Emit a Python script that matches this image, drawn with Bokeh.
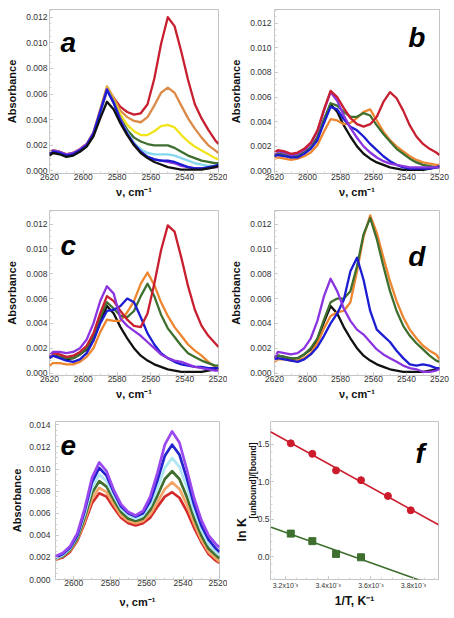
import numpy as np
from bokeh.plotting import figure
from bokeh.models import Range1d, FixedTicker, PrintfTickFormatter, CustomJSTickFormatter, Label, Title
from bokeh.layouts import row, column
from bokeh.embed import file_html
from bokeh.resources import INLINE

FONT = "Liberation Sans"

# ---------------- data ----------------
# wavenumber grid (cm^-1) for panels a-d
nu_ad = [2620, 2618, 2614, 2610, 2606, 2602, 2598, 2594, 2590, 2586, 2582, 2578, 2574, 2570,
         2566, 2562, 2558, 2554, 2550, 2546, 2542, 2538, 2534, 2530, 2526, 2522, 2520]

black_ref = [.0012, .0014, .0013, .0011, .0012, .0015, .0019, .0027, .0041, .0054, .0048, .0037, .0028, .0020,
             .0014, .0010, .0007, .0005, .0003, .0002, .0001, .0001, .0001, .0001, .0002, .0003, .0004]

# panel a
red_a = [.0014, .0016, .0015, .0013, .0014, .0017, .0021, .0029, .0046, .0062, .0057, .0050, .0046, .0044,
         .0045, .0052, .0072, .0099, .0120, .0113, .0093, .0071, .0052, .0041, .0032, .0024, .0021]
orange_a = [.0015, .0016, .0015, .0013, .0014, .0017, .0021, .0030, .0048, .0066, .0057, .0047, .0042, .0039,
            .0038, .0042, .0051, .0061, .0065, .0061, .0051, .0041, .0033, .0026, .0020, .0016, .0014]
yellow_a = [.0014, .0016, .0015, .0013, .0014, .0017, .0021, .0030, .0047, .0065, .0055, .0044, .0036, .0031,
            .0028, .0028, .0031, .0035, .0036, .0034, .0028, .0023, .0019, .0016, .0013, .0010, .0009]
green_a = [.0014, .0015, .0014, .0012, .0013, .0016, .0020, .0029, .0046, .0064, .0054, .0041, .0032, .0026,
           .0023, .0021, .0020, .0020, .0020, .0018, .0015, .0012, .0010, .0008, .0007, .0006, .0006]
cyan_a = [.0013, .0015, .0014, .0012, .0013, .0016, .0020, .0029, .0046, .0063, .0053, .0040, .0030, .0022,
          .0017, .0014, .0013, .0013, .0013, .0012, .0010, .0008, .0006, .0005, .0004, .0004, .0004]
purple_a = [.0014, .0016, .0015, .0013, .0014, .0017, .0021, .0030, .0047, .0064, .0053, .0040, .0029, .0021,
            .0015, .0011, .0009, .0008, .0007, .0006, .0004, .0003, .0002, .0002, .0002, .0003, .0003]
blue_a = [.0013, .0015, .0014, .0012, .0013, .0016, .0020, .0029, .0046, .0063, .0053, .0039, .0029, .0021,
          .0015, .0011, .0009, .0008, .0008, .0007, .0005, .0003, .0002, .0002, .0003, .0004, .0005]

# panel b
red_b = [.0015, .0017, .0016, .0014, .0015, .0018, .0023, .0033, .0050, .0065, .0060, .0051, .0043, .0038,
         .0036, .0038, .0044, .0056, .0064, .0059, .0049, .0037, .0028, .0022, .0018, .0015, .0013]
purple_b = [.0014, .0016, .0015, .0013, .0014, .0017, .0022, .0032, .0049, .0064, .0057, .0045, .0035, .0027,
            .0020, .0015, .0011, .0008, .0006, .0005, .0004, .0003, .0003, .0003, .0003, .0003, .0003]
green_b = [.0013, .0014, .0013, .0012, .0012, .0015, .0019, .0027, .0042, .0055, .0053, .0048, .0044, .0044,
           .0047, .0045, .0037, .0030, .0024, .0018, .0014, .0010, .0007, .0005, .0004, .0003, .0003]
orange_b = [.0010, .0011, .0010, .0009, .0010, .0012, .0015, .0021, .0032, .0042, .0041, .0038, .0039, .0043,
            .0048, .0050, .0041, .0032, .0025, .0020, .0016, .0012, .0009, .0007, .0006, .0005, .0005]
blue_b = [.0012, .0013, .0012, .0011, .0011, .0014, .0018, .0025, .0039, .0052, .0050, .0042, .0036, .0033,
          .0028, .0022, .0017, .0012, .0008, .0005, .0003, .0002, .0002, .0002, .0002, .0003, .0004]

# panel c
red_c = [.0014, .0016, .0015, .0013, .0014, .0017, .0022, .0032, .0048, .0062, .0058, .0050, .0043, .0038,
         .0037, .0048, .0072, .0099, .0119, .0114, .0093, .0070, .0051, .0038, .0030, .0024, .0021]
purple_c = [.0014, .0017, .0017, .0016, .0017, .0020, .0027, .0040, .0058, .0070, .0064, .0044, .0038, .0034,
            .0030, .0025, .0020, .0015, .0012, .0010, .0009, .0007, .0005, .0004, .0003, .0002, .0002]
blue_c = [.0012, .0014, .0012, .0010, .0009, .0011, .0016, .0026, .0040, .0050, .0051, .0054, .0060, .0057,
          .0045, .0032, .0023, .0016, .0012, .0009, .0007, .0006, .0005, .0005, .0004, .0004, .0004]
green_c = [.0013, .0014, .0013, .0012, .0012, .0015, .0020, .0029, .0045, .0057, .0052, .0046, .0045, .0050,
           .0062, .0072, .0062, .0047, .0036, .0029, .0022, .0016, .0013, .0010, .0008, .0006, .0006]
orange_c = [.0006, .0008, .0008, .0007, .0007, .0009, .0013, .0020, .0033, .0043, .0042, .0042, .0049, .0058,
            .0072, .0081, .0071, .0057, .0046, .0037, .0030, .0023, .0018, .0014, .0009, .0005, .0003]

# panel d
purple_d = [.0012, .0017, .0016, .0015, .0016, .0020, .0028, .0042, .0062, .0076, .0066, .0052, .0042, .0035,
            .0031, .0025, .0019, .0015, .0012, .0009, .0006, .0004, .0003, .0001, .0001, .0002, .0003]
blue_d = [.0011, .0012, .0011, .0010, .0009, .0011, .0015, .0021, .0030, .0040, .0048, .0059, .0082, .0093,
          .0075, .0050, .0035, .0030, .0025, .0018, .0012, .0007, .0006, .0007, .0006, .0004, .0004]
green_d = [.0012, .0014, .0013, .0012, .0012, .0015, .0020, .0028, .0043, .0057, .0060, .0060, .0066, .0086,
           .0112, .0125, .0108, .0086, .0066, .0050, .0038, .0030, .0024, .0019, .0014, .0010, .0009]
orange_d = [.0009, .0011, .0011, .0010, .0010, .0012, .0016, .0024, .0036, .0046, .0049, .0050, .0057, .0082,
            .0110, .0127, .0113, .0093, .0074, .0058, .0045, .0035, .0028, .0022, .0018, .0015, .0011]

# panel e
nu_e = [2610, 2606, 2602, 2598, 2594, 2590, 2586, 2582, 2578, 2574, 2570, 2566,
        2562, 2558, 2554, 2550, 2546, 2542, 2538, 2534, 2530, 2526, 2522, 2520]
purple_e = [.0021, .0024, .0030, .0042, .0064, .0092, .0106, .0098, .0081, .0068, .0061, .0058,
            .0062, .0075, .0097, .0122, .0134, .0124, .0100, .0074, .0054, .0040, .0032, .0029]
blue_e = [.0020, .0023, .0029, .0040, .0062, .0088, .0101, .0094, .0079, .0066, .0060, .0057,
          .0060, .0071, .0090, .0112, .0122, .0113, .0092, .0068, .0049, .0036, .0028, .0025]
cyan_e = [.0019, .0022, .0028, .0039, .0059, .0083, .0095, .0089, .0076, .0064, .0058, .0055,
          .0058, .0067, .0083, .0101, .0110, .0102, .0084, .0062, .0045, .0032, .0025, .0022]
green_e = [.0019, .0021, .0027, .0037, .0056, .0078, .0089, .0084, .0072, .0061, .0055, .0053,
           .0055, .0063, .0076, .0091, .0098, .0091, .0075, .0056, .0040, .0028, .0022, .0019]
orange_e = [.0018, .0021, .0026, .0036, .0053, .0073, .0083, .0079, .0068, .0058, .0053, .0051,
            .0053, .0059, .0070, .0082, .0088, .0082, .0068, .0051, .0036, .0025, .0019, .0016]
red_e = [.0018, .0020, .0025, .0035, .0051, .0069, .0078, .0075, .0065, .0056, .0051, .0049,
         .0051, .0056, .0066, .0075, .0079, .0074, .0062, .0047, .0034, .0023, .0017, .0015]

# panel f
invT = [3.225e-3, 3.326e-3, 3.437e-3, 3.554e-3, 3.680e-3, 3.787e-3]
lnK_red = [1.51, 1.37, 1.15, 1.02, 0.81, 0.62]
invT_green = [3.225e-3, 3.326e-3, 3.437e-3, 3.554e-3]
lnK_green = [0.31, 0.21, 0.04, -0.005]

# tick values
ticks_x_ad = [2620, 2600, 2580, 2560, 2540, 2520]
ticks_x_e = [2600, 2580, 2560, 2540, 2520]
ticks_y_ad = [0.000, 0.002, 0.004, 0.006, 0.008, 0.010, 0.012]
ticks_y_e = [0.000, 0.002, 0.004, 0.006, 0.008, 0.010, 0.012, 0.014]
ticks_x_f = [3.2e-3, 3.4e-3, 3.6e-3, 3.8e-3]
ticks_y_f = [0.0, 0.5, 1.0, 1.5]

# ---------------- style ----------------
RED = "#c81f30"
ORANGE_A = "#db8a48"
ORANGE = "#ee8630"
YELLOW = "#f2e41c"
GREEN = "#3f6f2f"
CYAN = "#86d8ee"
BLUE = "#1c1cd2"
PURPLE = "#8b35e0"
BLACK = "#111111"
E_COLORS = {"purple": "#9a48f0", "blue": "#2424cc", "cyan": "#aee6f2",
            "green": "#3f6f2f", "orange": "#f2a566", "red": "#d42a2a"}


def make_fig(xr, yr, bl, br, bt, bb, w=227, h=200):
    p = figure(width=w, height=h, x_range=Range1d(*xr), y_range=Range1d(*yr),
               output_backend="svg", toolbar_location=None,
               min_border_left=bl, min_border_right=br, min_border_top=bt, min_border_bottom=bb)
    p.xgrid.visible = False
    p.ygrid.visible = False
    p.outline_line_color = "#c4c4c4"
    p.outline_line_width = 1
    for ax in (p.xaxis[0], p.yaxis[0]):
        ax.axis_line_color = None
        ax.major_tick_in = 3
        ax.major_tick_out = 0
        ax.minor_tick_in = 2
        ax.minor_tick_out = 0
        ax.major_tick_line_color = "#a8a8a8"
        ax.minor_tick_line_color = "#d4d4d4"
        ax.major_label_text_font = FONT
        ax.major_label_text_font_size = "8.5px"
        ax.major_label_text_color = "#333333"
        ax.axis_label_text_font = FONT
        ax.axis_label_text_font_style = "bold"
        ax.axis_label_text_font_size = "11px"
        ax.axis_label_text_color = "#111111"
    return p


def spectrum_axes(p, xt, yt, ylab_stand=2, ylab_off=6, xlab_stand=0, xlab_off=3):
    p.xaxis.ticker = FixedTicker(ticks=xt, minor_ticks=list(np.arange(2520, 2621, 5)))
    p.yaxis.ticker = FixedTicker(ticks=yt, minor_ticks=list(np.arange(0, 0.0145, 0.0005)))
    p.yaxis.formatter = PrintfTickFormatter(format="%.3f")
    p.xaxis.formatter = PrintfTickFormatter(format="%d")
    p.yaxis.axis_label = "Absorbance"
    p.xaxis.axis_label = "ν, cm⁻¹"
    p.yaxis.major_label_standoff = ylab_stand
    p.yaxis.axis_label_standoff = ylab_off
    p.xaxis.major_label_standoff = xlab_stand
    p.xaxis.axis_label_standoff = xlab_off


def letter(p, x, y, t):
    p.add_layout(Label(x=x, y=y, text=t, text_font=FONT, text_font_style="bold italic",
                       text_font_size="28px", text_color="black",
                       text_align="left", text_baseline="alphabetic"))


LW = 2.3

# panel a  (page x 0..227, y 0..200)
pa = make_fig((2620, 2520), (-0.0002, 0.0126), 49, 9, 8, 25)
spectrum_axes(pa, ticks_x_ad, ticks_y_ad, ylab_stand=2, ylab_off=5)
for ys, c in [(red_a, RED), (orange_a, ORANGE_A), (yellow_a, YELLOW), (green_a, GREEN),
              (cyan_a, CYAN), (purple_a, PURPLE), (blue_a, BLUE), (black_ref, BLACK)]:
    pa.line(nu_ad, ys, line_color=c, line_width=LW, line_join="round")
letter(pa, 2613.5, 0.0100, "a")

# panel b  (page x 227..454)
pb = make_fig((2620, 2520), (-0.0002, 0.0131), 43, 15, 9, 25)
spectrum_axes(pb, ticks_x_ad, ticks_y_ad, ylab_stand=3, ylab_off=5)
for ys, c in [(black_ref, BLACK), (orange_b, ORANGE), (green_b, GREEN), (blue_b, BLUE),
              (purple_b, PURPLE), (red_b, RED)]:
    pb.line(nu_ad, ys, line_color=c, line_width=LW, line_join="round")
letter(pb, 2538.9, 0.01086, "b")

# panel c  (page y 200..408)
pc = make_fig((2620, 2520), (-0.0002, 0.0131), 49, 9, 10, 33, h=208)
spectrum_axes(pc, ticks_x_ad, ticks_y_ad, ylab_stand=2, ylab_off=5)
for ys, c in [(black_ref, BLACK), (orange_c, ORANGE), (green_c, GREEN), (blue_c, BLUE),
              (red_c, RED), (purple_c, PURPLE)]:
    pc.line(nu_ad, ys, line_color=c, line_width=LW, line_join="round")
letter(pc, 2613.5, 0.01028, "c")

# panel d
pd_ = make_fig((2620, 2520), (-0.0002, 0.0131), 43, 15, 9, 33, h=208)
spectrum_axes(pd_, ticks_x_ad, ticks_y_ad, ylab_stand=3, ylab_off=5)
for ys, c in [(black_ref, BLACK), (orange_d, ORANGE), (green_d, GREEN), (blue_d, BLUE),
              (purple_d, PURPLE)]:
    pd_.line(nu_ad, ys, line_color=c, line_width=LW, line_join="round")
letter(pd_, 2539.0, 0.00941, "d")

# panel e  (page y 408..616)
pe = make_fig((2610, 2520), (0.0, 0.0143), 55, 8, 13, 37, h=208)
spectrum_axes(pe, ticks_x_e, ticks_y_e, ylab_stand=5, ylab_off=3, xlab_stand=0, xlab_off=7)
for ys, c in [(red_e, E_COLORS["red"]), (orange_e, E_COLORS["orange"]), (green_e, E_COLORS["green"]),
              (cyan_e, E_COLORS["cyan"]), (blue_e, E_COLORS["blue"]), (purple_e, E_COLORS["purple"])]:
    pe.line(nu_e, ys, line_color=c, line_width=2.7, line_join="round")
letter(pe, 2607.3, 0.01213, "e")

# panel f
fx = (3.13e-3, 3.917e-3)
pf = make_fig(fx, (-0.3, 1.8), 43, 16, 6, 35, h=208)
pf.xaxis.ticker = FixedTicker(ticks=ticks_x_f, minor_ticks=list(np.arange(3.15e-3, 3.95e-3, 0.05e-3)))
pf.yaxis.ticker = FixedTicker(ticks=ticks_y_f, minor_ticks=list(np.arange(-0.3, 1.81, 0.1)))
pf.xaxis.formatter = CustomJSTickFormatter(code="return (tick*1000).toFixed(1) + 'x10\u207b\u00b3';")
pf.yaxis.formatter = PrintfTickFormatter(format="%.1f")
pf.xaxis.major_label_text_font_size = "7px"
pf.yaxis.major_label_standoff = 1
pf.xaxis.major_label_standoff = 2
pf.xaxis.axis_label = "1/T, K⁻¹"
pf.xaxis.axis_label_text_font_size = "12px"
pf.xaxis.axis_label_standoff = 2

xs_line = np.array(fx)
k_r = np.polyfit(invT, lnK_red, 1)
k_g = np.polyfit(invT_green, lnK_green, 1)
pf.line(xs_line, np.polyval(k_r, xs_line), line_color="#cc2030", line_width=1.6)
pf.line(xs_line, np.polyval(k_g, xs_line), line_color="#3f6f2f", line_width=1.6)
pf.scatter(invT, lnK_red, marker="circle", size=7, fill_color="#cc1c2c", line_color="#cc1c2c")
pf.scatter(invT_green, lnK_green, marker="square", size=7, fill_color="#3f6f2f", line_color="#3f6f2f")
letter(pf, 3.809e-3, 1.373, "f")

# y-axis label of panel f: "ln K" with a subscript, as two side titles
pf.add_layout(Title(text="[unbound]/[bound]", align="left", offset=61, standoff=-6,
                    text_font=FONT, text_font_size="8.5px", text_font_style="bold",
                    text_color="#111111"), "left")
pf.add_layout(Title(text="ln K", align="left", offset=38, standoff=0,
                    text_font=FONT, text_font_size="12.5px", text_font_style="bold",
                    text_color="#111111"), "left")

layout = column(row(pa, pb), row(pc, pd_), row(pe, pf))
open("out.html", "w").write(file_html(layout, INLINE))
